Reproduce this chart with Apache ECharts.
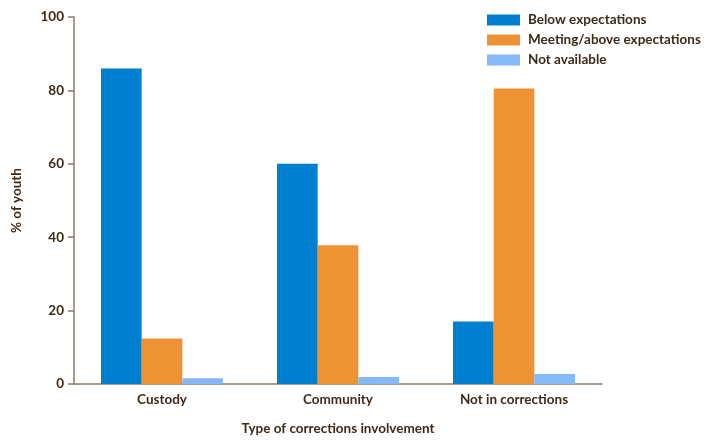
<!DOCTYPE html>
<html>
<head>
<meta charset="utf-8">
<script src="https://cdn.jsdelivr.net/npm/echarts@6/dist/echarts.min.js"></script>
<style>html,body{margin:0;padding:0;background:#fff}#c{width:717px;height:441px}</style>
</head>
<body>
<div id="c"></div>
<script>
const categories = ['Custody', 'Community', 'Not in corrections'];
const seriesNames = ['Below expectations', 'Meeting/above expectations', 'Not available'];
const belowValues = [86, 60, 17];
const meetingValues = [12.4, 37.8, 80.5];
const notAvailValues = [1.6, 1.9, 2.7];
const yTicks = [0, 20, 40, 60, 80, 100];

const textColor = '#3f2a17';
const axisColor = '#8c7b6a';
const fontFamily = 'Lato, "Open Sans", sans-serif';
const fs = 13.5;

const chart = echarts.init(document.getElementById('c'));
chart.setOption({
  animation: false,
  textStyle: { fontFamily: fontFamily, color: textColor },
  grid: { left: 74, right: 115, top: 17, bottom: 54, containLabel: false },
  legend: {
    orient: 'vertical',
    left: 482, top: 8,
    itemWidth: 33, itemHeight: 11, itemGap: 6,
    icon: 'rect',
    textStyle: { fontFamily: fontFamily, fontWeight: 'bold', fontSize: fs, color: textColor, lineHeight: 14, padding: [0, 0, 0, 3] },
    data: seriesNames
  },
  xAxis: {
    type: 'category',
    data: categories,
    name: 'Type of corrections involvement',
    nameLocation: 'middle',
    nameGap: 38,
    nameTextStyle: { fontFamily: fontFamily, fontWeight: 'bold', fontSize: fs, color: textColor },
    axisLine: { lineStyle: { color: axisColor, width: 1.5 } },
    axisTick: { show: false },
    axisLabel: { fontFamily: fontFamily, fontWeight: 'bold', fontSize: fs, color: textColor, margin: 9 }
  },
  yAxis: {
    type: 'value',
    min: 0, max: 100, interval: 20,
    name: '% of youth',
    nameLocation: 'middle',
    nameGap: 50,
    nameTextStyle: { fontFamily: fontFamily, fontWeight: 'bold', fontSize: fs, color: textColor },
    axisLine: { show: true, lineStyle: { color: axisColor, width: 1.5 } },
    axisTick: { show: true, length: 6, lineStyle: { color: axisColor, width: 1.5 } },
    splitLine: { show: false },
    axisLabel: { fontFamily: fontFamily, fontWeight: 'bold', fontSize: fs, color: textColor, margin: 10,
      formatter: v => yTicks.includes(v) ? String(v) : '' }
  },
  series: [
    { name: seriesNames[0], type: 'bar', data: belowValues, itemStyle: { color: '#007ED0' }, barGap: '0%', barCategoryGap: '30.7%' },
    { name: seriesNames[1], type: 'bar', data: meetingValues, itemStyle: { color: '#EF9234' }, barGap: '0%', barCategoryGap: '30.7%' },
    { name: seriesNames[2], type: 'bar', data: notAvailValues, itemStyle: { color: '#85B9FA' }, barGap: '0%', barCategoryGap: '30.7%' }
  ]
});
</script>
</body>
</html>
